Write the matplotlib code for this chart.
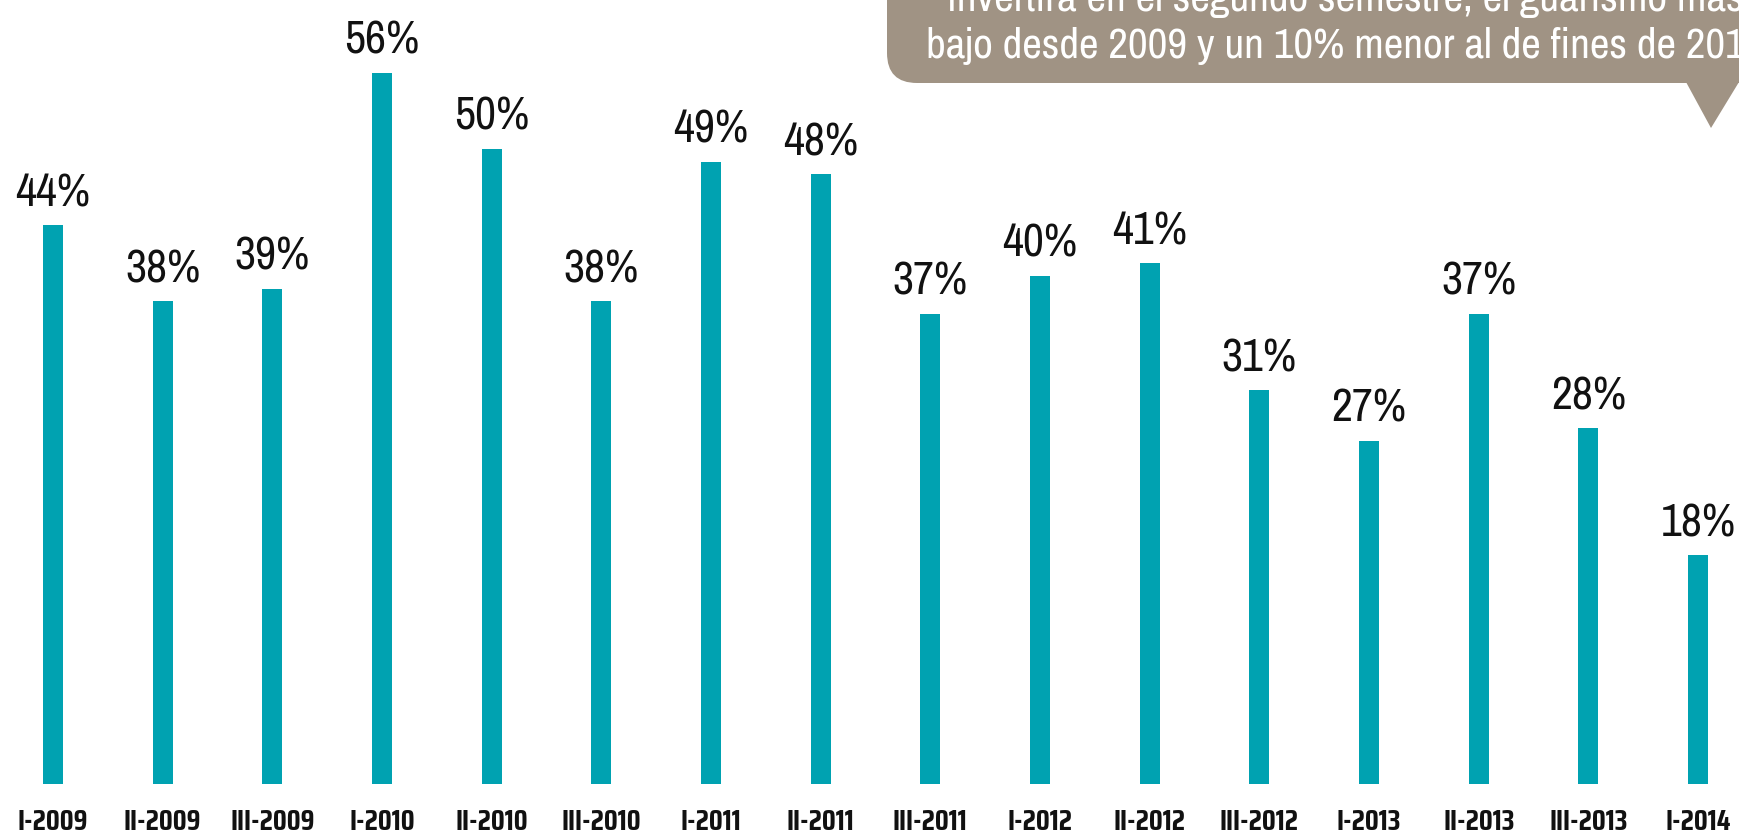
import matplotlib
matplotlib.use("Agg")
import matplotlib.pyplot as plt
from matplotlib.patches import FancyBboxPatch, Polygon

periods = ["I-2009", "II-2009", "III-2009", "I-2010", "II-2010", "III-2010",
           "I-2011", "II-2011", "III-2011", "I-2012", "II-2012", "III-2012",
           "I-2013", "II-2013", "III-2013", "I-2014"]
values = [44, 38, 39, 56, 50, 38, 49, 48, 37, 40, 41, 31, 27, 37, 28, 18]
callout_lines = ["invertirá en el segundo semestre, el guarismo más",
                 "bajo desde 2009 y un 10% menor al de fines de 2013"]

plt.rcParams['font.family'] = ['Archivo Narrow', 'DejaVu Sans']

W, H = 1739, 833
fig = plt.figure(figsize=(W / 100, H / 100), dpi=100)
ax = fig.add_axes([0, 0, 1, 1])

step = 109.67   # px between bars
ppu = 12.7      # px per percent
x0 = 53         # px of first bar center
base = 784      # px from top of baseline

ax.set_xlim(-x0 / step, (W - x0) / step)
ax.set_ylim(-(H - base) / ppu, base / ppu)
ax.axis('off')

xs = list(range(len(values)))
ax.bar(xs, values, width=20 / step, color='#00A2B1')

for x, v in zip(xs, values):
    ax.annotate(f"{v}%", (x, v), xytext=(0, 8), textcoords='offset points',
                ha='center', va='bottom', fontsize=33, color='#111111')

for x, p in zip(xs, periods):
    ax.text(x, -38 / ppu, p, ha='center', va='center', fontsize=21,
            fontweight='bold', color='#111111',
            family=['Saira Condensed', 'Archivo Narrow', 'DejaVu Sans'])

# callout bubble (pixel coords)
box_col = '#A09384'
left, bottom = 887, H - 83
bub = FancyBboxPatch((left, bottom), W + 60 - left, 200,
                     boxstyle="round,pad=0,rounding_size=30",
                     transform=None, facecolor=box_col, edgecolor='none')
fig.patches.append(bub)
tri = Polygon([(1686, bottom + 1), (1739, bottom + 1), (1711, H - 128)],
              closed=True, transform=None, facecolor=box_col, edgecolor='none')
fig.patches.append(tri)

fig.text(1345 / W, (H - 11) / H, callout_lines[0], ha='center', va='baseline',
         fontsize=31, color='white')
fig.text(1345 / W, (H - 58) / H, callout_lines[1], ha='center', va='baseline',
         fontsize=31, color='white')

fig.savefig("out.png", dpi=100)
